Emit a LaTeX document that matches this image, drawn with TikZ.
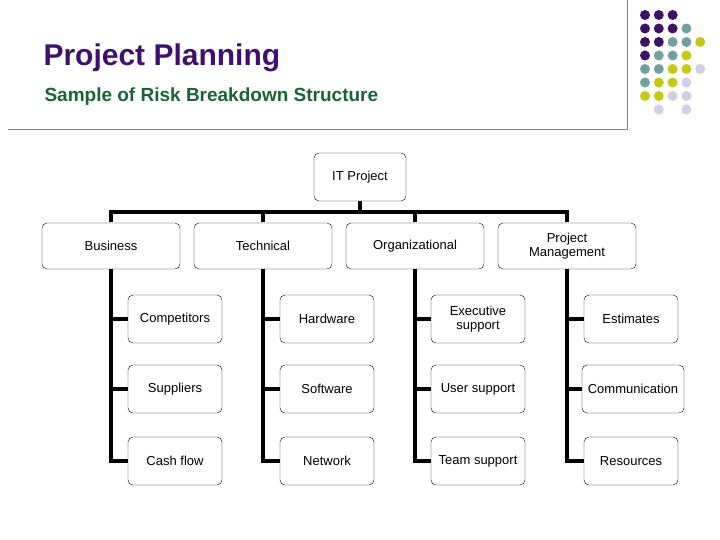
\documentclass[tikz,border=0pt]{standalone}
\usepackage{fontspec}
\setmainfont{Liberation Sans}
\usetikzlibrary{positioning,calc}
\definecolor{titlepurple}{RGB}{64,16,112}
\definecolor{titlegreen}{RGB}{24,100,56}
\definecolor{dotP}{RGB}{64,16,104}
\definecolor{dotT}{RGB}{112,160,160}
\definecolor{dotY}{RGB}{200,200,16}
\definecolor{dotL}{RGB}{208,208,228}
\tikzset{
  rbox/.style={draw, rounded corners=5pt, thin, align=center, font=\fontsize{13}{14}\selectfont, inner sep=2pt},
  topbox/.style={rbox, minimum width=138pt, minimum height=46pt},
  subbox/.style={rbox, minimum width=94pt, minimum height=48pt},
  link/.style={line width=4pt}
}
\begin{document}
\begin{tikzpicture}[x=1pt, y=-1pt]
\useasboundingbox (0,0) rectangle (720,540);
% frame lines and dots
\draw[gray, line width=1pt] (8,130) -- (627,130) -- (627,0);
\foreach \row/\cols in {0/{P,P,P,N,N},1/{P,P,P,T,N},2/{P,P,T,T,Y},3/{P,T,T,Y,N},4/{T,T,Y,Y,L},5/{T,Y,Y,L,N},6/{Y,Y,L,L,N},7/{N,L,N,L,N}} {
  \foreach \c [count=\i from 0] in \cols {
    \if\c N\else \fill[dot\c] ($(645,15)+(\i*13.8,\row*13.5)$) circle (5pt); \fi
  }
}
% titles
\node[anchor=west, text=titlepurple, font=\bfseries\fontsize{30}{32}\selectfont] (title) at (40,58) {Project Planning};
\node[anchor=west, text=titlegreen, font=\bfseries\fontsize{19}{21}\selectfont] (subtitle) at (41,97) {Sample of Risk Breakdown Structure};
% tree
\node[rbox, minimum width=92pt, minimum height=48pt] (it) at (360,177) {IT Project};
\node[topbox] (bus) at (111,246) {Business};
\node[topbox] (tec) at (263,246) {Technical};
\node[topbox] (org) at (415,246) {Organizational};
\node[topbox] (pm) at (567,246) {Project\\Management};
\coordinate (bar) at (360,212);
\draw[link] (it.south) -- (bar);
\draw[link] ($(bus.north)+(0,-1)$) |- (bar) -| ($(pm.north)+(0,-1)$);
\draw[link] ($(tec.north)+(0,-1)$) -- (tec.north |- bar);
\draw[link] ($(org.north)+(0,-1)$) -- (org.north |- bar);
\node[subbox] (b1) at (175,319) {Competitors};
\node[subbox] (b2) at (175,389) {Suppliers};
\node[subbox] (b3) at (175,461) {Cash flow};
\node[subbox] (t1) at (327,319) {Hardware};
\node[subbox] (t2) at (327,389) {Software};
\node[subbox] (t3) at (327,461) {Network};
\node[subbox] (o1) at (478,319) {Executive\\support};
\node[subbox] (o2) at (478,389) {User support};
\node[subbox] (o3) at (478,461) {Team support};
\node[subbox] (p1) at (631,319) {Estimates};
\node[subbox, minimum width=102pt] (p2) at (633,389) {Communication};
\node[subbox] (p3) at (631,461) {Resources};
\foreach \parent/\ch in {bus/b,tec/t,org/o,pm/p} {
  \draw[link] (\parent.south) |- (\ch3.west);
  \draw[link] (\parent.south |- \ch1.west) -- (\ch1.west);
  \draw[link] (\parent.south |- \ch2.west) -- (\ch2.west);
}
\end{tikzpicture}
\end{document}
